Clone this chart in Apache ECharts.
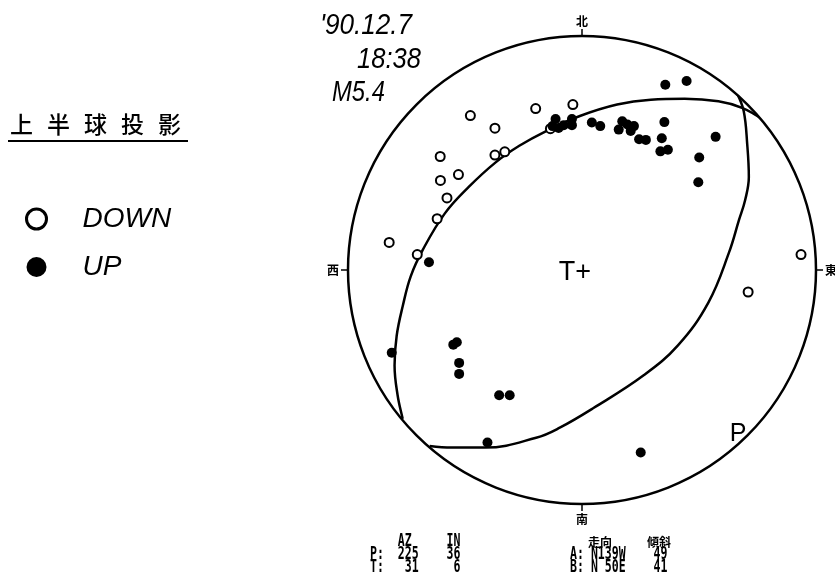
<!DOCTYPE html>
<html>
<head>
<meta charset="utf-8">
<script src="https://cdn.jsdelivr.net/npm/echarts@6/dist/echarts.min.js"></script>
<style>
html, body { margin: 0; padding: 0; background: #fff; }
#chart { width: 835px; height: 579px; }
</style>
</head>
<body>
<div id="chart"></div>
<script>
// readings in unit net coordinates: [east, north], 1 = primitive circle
var downPoints = [
    [-0.477, 0.660], [-0.198, 0.690], [-0.039, 0.707], [-0.372, 0.606],
    [-0.606, 0.485], [-0.372, 0.491], [-0.330, 0.505], [-0.528, 0.408],
    [-0.605, 0.383], [-0.577, 0.308], [-0.619, 0.219], [-0.135, 0.604],
    [-0.824, 0.118], [-0.704, 0.066], [0.936, 0.066], [0.710, -0.094]
];
var upPoints = [
    [-0.113, 0.645], [-0.126, 0.615], [-0.100, 0.607], [-0.078, 0.619],
    [-0.043, 0.645], [-0.043, 0.619], [0.042, 0.630], [0.078, 0.615],
    [0.157, 0.600], [0.172, 0.636], [0.194, 0.622], [0.222, 0.615],
    [0.208, 0.594], [0.244, 0.559], [0.273, 0.556], [0.356, 0.792],
    [0.447, 0.808], [0.352, 0.632], [0.341, 0.563], [0.335, 0.507],
    [0.367, 0.514], [0.571, 0.569], [0.501, 0.481], [0.497, 0.375],
    [-0.654, 0.033], [-0.535, -0.309], [-0.550, -0.319], [-0.525, -0.397],
    [-0.525, -0.444], [-0.354, -0.535], [-0.309, -0.535], [-0.813, -0.354],
    [-0.404, -0.737], [0.251, -0.780]
];
// nodal plane A: N139W 49
var planeA = [
    [0.662, 0.756], [0.691, 0.679], [0.706, 0.538], [0.713, 0.397],
    [0.697, 0.298], [0.671, 0.214], [0.628, 0.074], [0.540, -0.139],
    [0.410, -0.322], [0.265, -0.449], [0.049, -0.590], [-0.095, -0.674],
    [-0.196, -0.717], [-0.413, -0.759], [-0.557, -0.759], [-0.651, -0.752]
];
// nodal plane B: N 50E 41
var planeB = [
    [0.771, 0.644], [0.684, 0.693], [0.583, 0.721], [0.439, 0.732],
    [0.294, 0.728], [0.150, 0.707], [-0.009, 0.658], [-0.153, 0.594],
    [-0.268, 0.531], [-0.369, 0.460], [-0.485, 0.354], [-0.586, 0.242],
    [-0.680, 0.087], [-0.732, -0.027], [-0.766, -0.154], [-0.792, -0.281],
    [-0.801, -0.408], [-0.788, -0.535], [-0.766, -0.636]
];
var directionLabels = { 0: '北', 90: '東', 180: '南', 270: '西' };
var axisRows = ['    AZ     IN', 'P:  225    36', 'T:   31     6'];
var planeRows = ['A: N139W    49', 'B: N 50E    41'];

function toPolar(pt) {
    var r = Math.sqrt(pt[0] * pt[0] + pt[1] * pt[1]);
    var az = Math.atan2(pt[0], pt[1]) * 180 / Math.PI;
    if (az < 0) az += 360;
    return [r, az];
}

function planeSeries(name, pts) {
    return {
        name: name,
        type: 'line',
        coordinateSystem: 'polar',
        data: pts.map(toPolar),
        showSymbol: false,
        smooth: 0.4,
        silent: true,
        lineStyle: { color: '#000', width: 2.5 },
        z: 2
    };
}

function textEl(x, y, text, font, scaleX, align) {
    return {
        type: 'text', x: x, y: y, scaleX: scaleX || 1,
        style: { text: text, font: font, fill: '#000', textAlign: align || 'left', textVerticalAlign: 'middle' }
    };
}

var graphics = [];
var dateFont = 'italic 29px "Liberation Sans"';
graphics.push(textEl(320, 26, "'90.12.7", dateFont, 0.9));
graphics.push(textEl(357, 60, '18:38', dateFont, 0.88));
graphics.push(textEl(332, 93, 'M5.4', dateFont, 0.82));

'上半球投影'.split('').forEach(function (ch, i) {
    graphics.push(textEl(10 + i * 37, 124, ch, '500 23px "Noto Sans CJK SC"'));
});
graphics.push({ type: 'line', shape: { x1: 8, y1: 141, x2: 188, y2: 141 }, style: { stroke: '#000', lineWidth: 2 } });

graphics.push(textEl(575, 273, 'T+', '27px "Liberation Sans"', 1, 'center'));
graphics.push(textEl(738, 434, 'P', '25px "Liberation Sans"', 1, 'center'));

var monoFont = 'bold 17px "DejaVu Sans Mono"';
var rowY = [542, 555, 568];
axisRows.forEach(function (row, i) {
    graphics.push(textEl(370, rowY[i], row, monoFont, 0.68));
});
graphics.push(textEl(588, rowY[0], '走向', 'bold 12px "Noto Sans CJK JP"'));
graphics.push(textEl(647, rowY[0], '傾斜', 'bold 12px "Noto Sans CJK JP"'));
planeRows.forEach(function (row, i) {
    graphics.push(textEl(570, rowY[i + 1], row, monoFont, 0.68));
});

var chart = echarts.init(document.getElementById('chart'));
chart.setOption({
    backgroundColor: '#fff',
    animation: false,
    polar: { center: [582, 270], radius: 234 },
    angleAxis: {
        type: 'value',
        min: 0,
        max: 360,
        interval: 90,
        startAngle: 90,
        clockwise: true,
        axisLine: { lineStyle: { color: '#000', width: 2.5 } },
        axisTick: { show: true, length: 7, lineStyle: { color: '#000', width: 1.5 } },
        axisLabel: {
            margin: 9,
            color: '#000',
            fontSize: 12,
            fontWeight: 'bold',
            fontFamily: 'Noto Sans CJK JP',
            formatter: function (v) { return directionLabels[v] || ''; }
        },
        splitLine: { show: false }
    },
    radiusAxis: {
        type: 'value', min: 0, max: 1,
        axisLine: { show: false }, axisTick: { show: false },
        axisLabel: { show: false }, splitLine: { show: false }
    },
    legend: {
        orient: 'vertical',
        left: 25,
        top: 205,
        padding: 0,
        itemWidth: 20,
        itemHeight: 20,
        itemGap: 20,
        selectedMode: false,
        icon: 'circle',
        data: [{ name: 'DOWN', itemStyle: { borderWidth: 3 } }, { name: 'UP' }],
        formatter: function (name) { return '    ' + name; },
        textStyle: { fontSize: 28, lineHeight: 28, fontStyle: 'italic', fontFamily: 'Liberation Sans', color: '#000' }
    },
    graphic: graphics,
    series: [
        planeSeries('A', planeA),
        planeSeries('B', planeB),
        {
            name: 'DOWN',
            type: 'scatter',
            coordinateSystem: 'polar',
            data: downPoints.map(toPolar),
            symbol: 'circle',
            symbolSize: 9,
            itemStyle: { color: '#fff', borderColor: '#000', borderWidth: 2, opacity: 1 },
            z: 3
        },
        {
            name: 'UP',
            type: 'scatter',
            coordinateSystem: 'polar',
            data: upPoints.map(toPolar),
            symbol: 'circle',
            symbolSize: 10,
            itemStyle: { color: '#000', opacity: 1 },
            z: 3
        }
    ]
});
</script>
</body>
</html>
